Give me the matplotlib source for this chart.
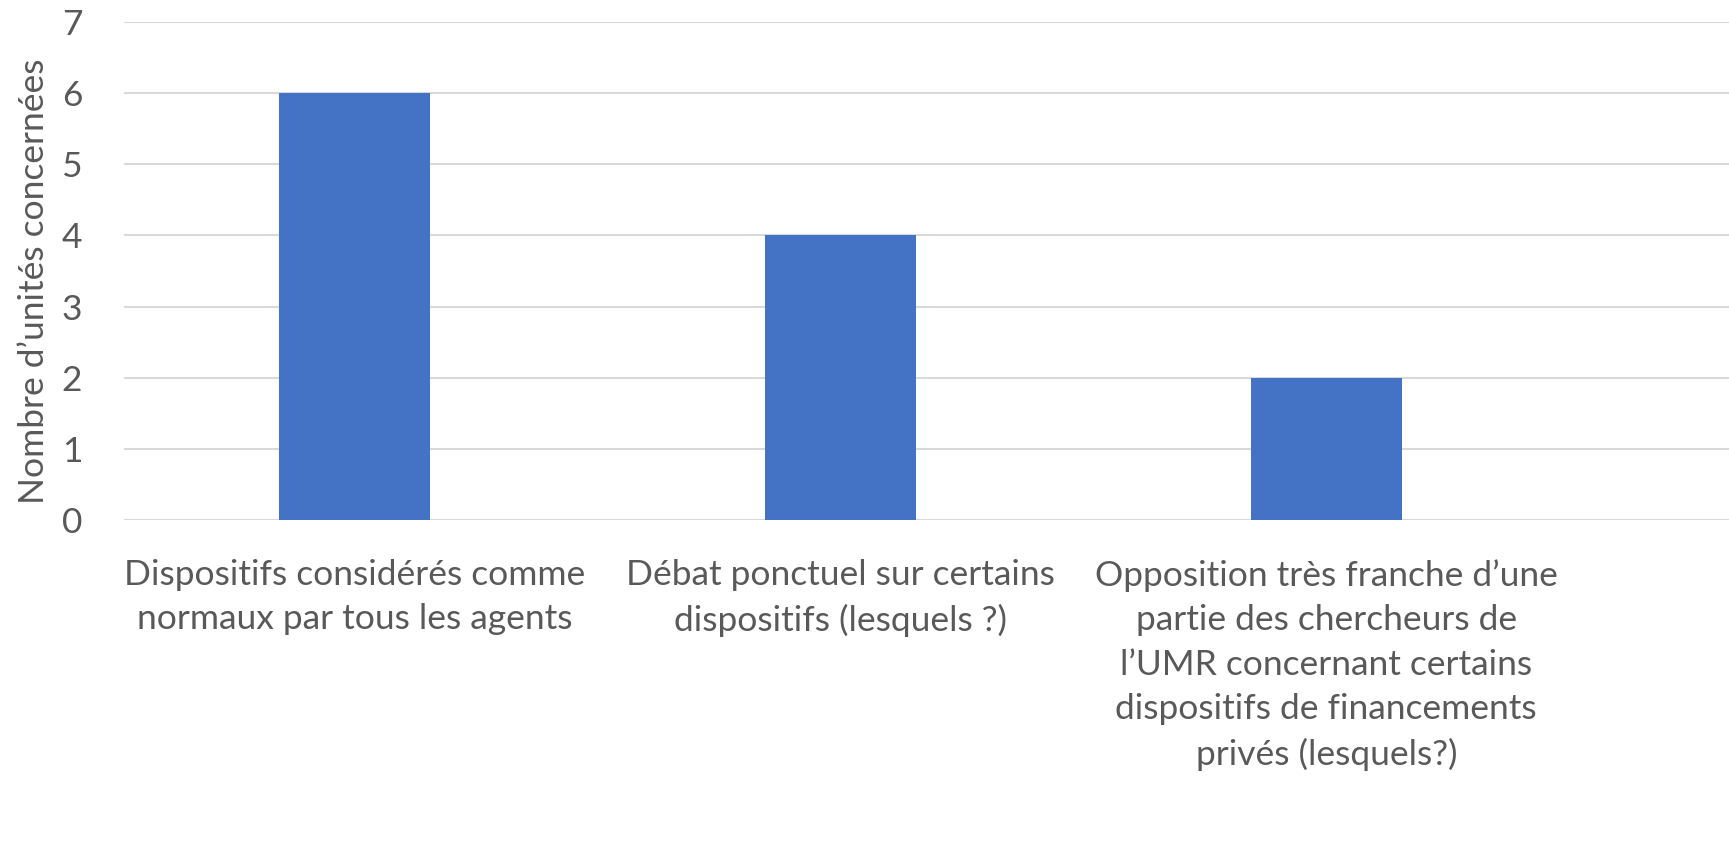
import matplotlib.pyplot as plt

plt.rcParams['font.family'] = ['Lato', 'DejaVu Sans']

categories = [
    "Dispositifs considérés comme\nnormaux par tous les agents",
    "Débat ponctuel sur certains\ndispositifs (lesquels ?)",
    "Opposition très franche d\u2019une\npartie des chercheurs de\nl\u2019UMR concernant certains\ndispositifs de financements\nprivés (lesquels?)",
]
values = [6, 4, 2]

txt = '#595959'

fig = plt.figure(figsize=(17.29, 8.58), dpi=100)
ax = fig.add_axes([0.0717, 0.394, 0.9283, 0.5804])

x = range(len(values))
ax.bar(x, values, width=0.31, color='#4472C4', zorder=3)

ax.set_xlim(-0.475, 2.829)
ax.set_ylim(0, 7)
ax.set_yticks(range(0, 8))
ax.yaxis.grid(True, color='#D9D9D9', lw=1.5, zorder=0)
for s in ax.spines.values():
    s.set_visible(False)
ax.tick_params(axis='both', length=0, labelsize=25.5, colors=txt)
ax.tick_params(axis='y', pad=30)
ax.tick_params(axis='x', pad=28)
ax.set_xticks(list(x))
ax.set_xticklabels(categories, linespacing=1.48)
ax.set_ylabel("Nombre d\u2019unités concernées", fontsize=25.5, color=txt)
ax.yaxis.set_label_coords(-0.046, 0.48)

fig.savefig('out.png', dpi=100)
